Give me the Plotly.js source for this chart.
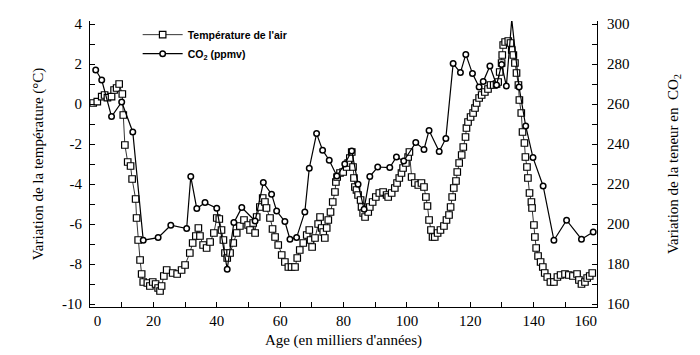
<!DOCTYPE html>
<html>
<head>
<meta charset="utf-8">
<script src="https://cdn.plot.ly/plotly-3.0.1.min.js"></script>
<style>html,body{margin:0;padding:0;background:#fff;}#chart{width:700px;height:355px;}</style>
</head>
<body>
<div id="chart"></div>
<script>
// Age (kyr BP) and air-temperature variation (°C)
const tempAge = [1.0,2.3,3.7,4.6,5.5,6.8,7.6,8.4,9.2,10.2,10.5,11.0,11.9,12.8,13.3,14.4,14.7,15.2,15.8,16.3,16.8,18.1,18.9,19.8,20.7,21.5,22.1,22.6,23.3,24.2,26.1,27.5,28.9,30.0,31.5,32.4,33.4,34.2,34.7,35.7,36.8,37.9,39.1,40.0,40.8,41.5,42.1,42.6,43.3,44.2,45.2,46.3,47.3,48.6,49.9,50.5,51.5,52.1,52.6,53.6,54.5,55.2,55.7,56.8,57.6,58.4,59.4,60.5,61.5,62.6,63.6,64.7,65.4,66.2,67.3,68.4,69.2,69.6,70.1,71.0,72.0,72.6,73.1,73.6,74.1,74.7,75.2,75.9,76.6,77.3,77.6,78.0,78.9,79.9,81.0,81.5,82.0,82.6,83.0,83.3,83.6,84.1,84.6,85.4,85.7,86.2,86.8,87.8,88.3,89.2,90.2,91.3,92.5,93.6,94.1,95.2,96.2,96.9,97.6,98.3,98.8,99.7,100.4,100.8,101.5,102.5,103.6,104.6,105.4,106.0,106.5,107.0,107.6,108.1,108.8,109.7,110.6,111.7,112.5,113.3,113.8,114.3,114.8,115.5,115.9,116.5,117.3,117.8,118.5,118.8,119.3,120.1,120.9,121.5,122.0,122.8,123.6,124.6,125.6,126.4,127.4,128.3,128.8,129.3,129.9,130.1,130.4,131.0,132.0,132.7,133.1,133.6,134.1,134.6,135.2,135.5,136.1,136.5,137.1,137.4,137.9,138.2,138.7,139.3,139.5,140.1,140.4,140.8,141.4,142.2,142.9,143.5,144.3,145.3,146.4,147.5,148.5,149.9,151.1,152.4,153.7,154.3,155.1,156.2,156.9,157.7,158.5];
const tempVal = [0.05,0.12,0.37,0.45,0.32,0.37,0.70,0.80,1.00,0.50,-0.55,-2.05,-2.90,-3.10,-3.75,-4.75,-5.70,-6.80,-7.80,-8.50,-8.90,-8.95,-9.10,-8.90,-9.00,-9.20,-9.35,-9.10,-8.60,-8.30,-8.45,-8.50,-8.30,-8.05,-7.45,-6.95,-6.60,-6.20,-6.60,-7.05,-7.20,-6.90,-6.45,-5.70,-5.75,-6.30,-6.80,-7.45,-7.70,-7.45,-6.95,-6.45,-6.10,-5.80,-6.05,-6.30,-5.95,-6.45,-5.65,-5.15,-4.70,-4.90,-5.20,-5.70,-6.25,-6.65,-7.05,-7.55,-7.90,-8.15,-8.15,-8.15,-7.70,-7.30,-6.95,-6.55,-6.30,-6.80,-7.15,-6.70,-6.00,-5.65,-6.20,-6.40,-6.70,-6.20,-5.80,-5.40,-4.90,-4.40,-3.90,-3.65,-3.45,-3.40,-3.15,-2.95,-2.70,-2.40,-3.15,-3.70,-4.15,-4.30,-4.55,-4.80,-5.15,-5.45,-5.65,-5.40,-5.15,-4.90,-4.65,-4.45,-4.40,-4.55,-4.65,-4.45,-4.20,-3.95,-3.70,-3.45,-3.20,-2.95,-2.65,-2.40,-3.65,-3.95,-4.05,-3.95,-4.15,-4.65,-5.10,-5.80,-6.30,-6.65,-6.65,-6.45,-6.30,-6.10,-5.80,-5.55,-5.15,-4.65,-4.20,-3.85,-3.40,-2.95,-2.55,-2.15,-1.65,-1.20,-0.90,-0.65,-0.45,-0.20,0.05,0.30,0.45,0.60,0.75,0.95,0.95,1.00,1.10,1.60,2.05,2.45,2.95,3.10,3.15,3.05,2.70,2.45,2.05,1.55,0.95,0.20,-0.45,-1.40,-1.95,-2.65,-3.15,-3.70,-4.45,-4.90,-5.20,-6.05,-6.65,-7.20,-7.60,-7.90,-8.15,-8.45,-8.65,-8.90,-8.90,-8.65,-8.55,-8.50,-8.55,-8.60,-8.50,-8.80,-9.00,-8.90,-8.70,-8.60,-8.45];

// Age (kyr BP) and CO2 content (ppmv)
const co2Age = [1.8,3.7,6.8,10.0,13.5,16.8,21.5,25.5,30.5,31.8,33.7,36.3,40.0,43.3,45.4,47.9,52.1,54.7,57.3,58.9,61.5,63.1,65.2,67.8,69.2,71.5,73.4,75.5,77.9,80.4,82.6,84.6,86.5,88.3,90.8,94.6,96.7,99.0,102.8,105.4,107.0,110.2,112.3,114.6,116.9,118.6,120.7,122.8,124.1,126.2,128.3,129.9,131.4,133.1,135.4,137.5,139.8,143.0,146.4,150.4,155.1,158.8];
const co2Val = [277,272,253.7,261,246,191.9,193.2,199.4,197.7,223.7,207.7,210.7,207.9,177.4,200.7,208.2,201.5,220.7,214.9,206.5,201.2,192.4,193.2,206,227.9,245.2,236.9,231.9,224,230,236.5,219.9,207.4,223.7,228.5,228.2,233.5,231.5,240.7,237.3,246.8,236.2,242.8,280.2,275.7,284.8,275.2,268.5,271.2,279,269.5,279.8,269,302.3,268.5,249,233.2,219,191.9,201.9,192.4,196];

// Tick values / labels
const xTicks = [0,20,40,60,80,100,120,140,160];
const xTickText = ['\u2007\u20070','20','40','60','80','100','120','140','160\u2007\u2007\u2007'];
const xMinor = [10,30,50,70,90,110,130,150];
const yTicks = [-10,-8,-6,-4,-2,0,2,4];
const yMinor = [-9,-7,-5,-3,-1,1,3];
const y2Ticks = [160,180,200,220,240,260,280,300];
const y2Minor = [170,190,210,230,250,270,290];

const serif = '"Liberation Serif", "Times New Roman", Times, serif';
const sans = '"Liberation Sans", Arial, Helvetica, sans-serif';

const traces = [
  {
    x: tempAge, y: tempVal, name: "Température de l'air",
    type: 'scatter', mode: 'lines+markers',
    line: {color: '#000', width: 0.8},
    marker: {symbol: 'square', size: 6.5, color: '#fff', line: {color: '#000', width: 1.2}},
    cliponaxis: false
  },
  {
    x: co2Age, y: co2Val, name: 'CO<sub>2</sub> (ppmv)', yaxis: 'y2',
    type: 'scatter', mode: 'lines+markers',
    line: {color: '#000', width: 1.2},
    marker: {symbol: 'circle', size: 5.5, color: '#fff', line: {color: '#000', width: 1.5}},
    cliponaxis: false
  }
];

const axisCommon = {
  showgrid: false, zeroline: false, showline: true, linecolor: '#000', linewidth: 1,
  ticks: 'inside', ticklen: 5, tickwidth: 1, tickcolor: '#000',
  tickfont: {family: serif, size: 15, color: '#000'}
};

const layout = {
  width: 700, height: 355,
  margin: {l: 90, r: 103, t: 21, b: 48},
  paper_bgcolor: '#fff', plot_bgcolor: '#fff',
  font: {family: serif, size: 15, color: '#000'},
  showlegend: true,
  legend: {
    x: 0.094, y: 1.003, xanchor: 'left', yanchor: 'top',
    bgcolor: 'rgba(0,0,0,0)', borderwidth: 0,
    font: {family: sans, size: 10.5, weight: 'bold', color: '#000'},
    itemwidth: 40, tracegroupgap: 0
  },
  xaxis: Object.assign({}, axisCommon, {
    range: [0, 160], tickmode: 'array', tickvals: xTicks, ticktext: xTickText,
    minor: {tickmode: 'array', tickvals: xMinor, ticks: 'inside', ticklen: 5, tickcolor: '#000', showgrid: false},
    title: {text: "Age (en milliers d'années)", font: {family: serif, size: 15}, standoff: 6}
  }),
  yaxis: Object.assign({}, axisCommon, {
    range: [-10.15, 4.15], tickmode: 'array', tickvals: yTicks, ticktext: yTicks.map(String),
    minor: {tickmode: 'array', tickvals: yMinor, ticks: 'inside', ticklen: 5, tickcolor: '#000', showgrid: false},
    ticklabelstandoff: 4,
    title: {text: 'Variation de la température (°C)', font: {family: serif, size: 15}, standoff: 14}
  }),
  yaxis2: Object.assign({}, axisCommon, {
    overlaying: 'y', side: 'right',
    range: [158.5, 301.5], tickmode: 'array', tickvals: y2Ticks, ticktext: y2Ticks.map(String),
    minor: {tickmode: 'array', tickvals: y2Minor, ticks: 'inside', ticklen: 5, tickcolor: '#000', showgrid: false},
    ticklabelstandoff: 6,
    title: {text: 'Variation de la teneur en  CO<sub>2</sub>', font: {family: serif, size: 15}, standoff: 38}
  })
};

Plotly.newPlot('chart', traces, layout, {displayModeBar: false, staticPlot: true});
</script>
</body>
</html>
